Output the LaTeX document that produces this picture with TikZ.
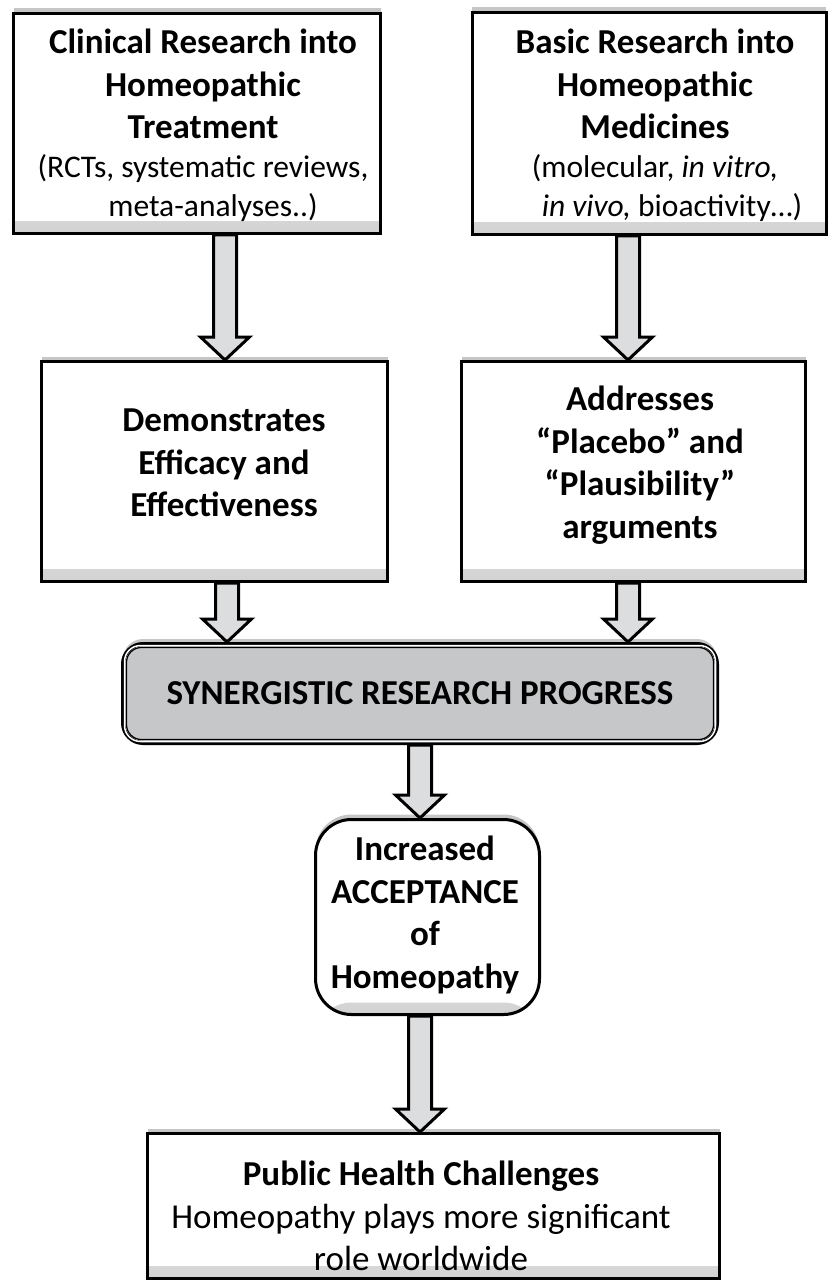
\documentclass[tikz,border=0pt]{standalone}
\usepackage{fontspec}
\setmainfont{Carlito}
\usetikzlibrary{calc,shadows}
\definecolor{arrowgray}{HTML}{DCDDDF}
\definecolor{syngray}{HTML}{C6C7C9}
\tikzset{
  box/.style={draw=black, line width=3pt, fill=white, rectangle, inner sep=0pt,
    general shadow={fill=gray!45, shadow yshift=5pt},
    path picture={\shade[top color=white, bottom color=gray!35]
      ([yshift=12pt]path picture bounding box.south west) rectangle (path picture bounding box.south east);}},
  rbox/.style={box, rounded corners=#1},
  txt/.style={align=center, inner sep=0pt, font=\fontsize{35}{42.5}\selectfont},
  btxt/.style={txt, font=\fontsize{35}{42.5}\selectfont\bfseries},
  stxt/.style={txt, font=\fontsize{31.5}{39}\selectfont},
  blockarr/.style={draw=black, line width=3pt, fill=arrowgray, line join=miter},
}
\newcommand{\barrow}[3]{%
  \draw[blockarr] let \p1=(#2.south), \p2=(#3.north) in
    (#1-11.5,\y1) -- (#1-11.5,\y2+23) -- (#1-24.5,\y2+23) -- (#1,\y2) --
    (#1+24.5,\y2+23) -- (#1+11.5,\y2+23) -- (#1+11.5,\y1) -- cycle;}
\begin{document}
\begin{tikzpicture}[x=1pt,y=1pt]
\useasboundingbox (0,0) rectangle (829,-1281);
% boxes
\node[box, minimum width=367pt, minimum height=220pt] (b1) at (197,-123.5) {};
\node[box, minimum width=354pt, minimum height=222pt] (b2) at (649,-123.5) {};
\node[box, minimum width=346pt, minimum height=220pt] (b3) at (214.5,-471.5) {};
\node[box, minimum width=344pt, minimum height=220pt] (b4) at (633.5,-471.5) {};
\node[rbox=20pt, line width=4pt, fill=syngray, path picture={}, minimum width=594pt, minimum height=99pt] (syn) at (420,-693.5) {};
\draw[white, line width=1.5pt, rounded corners=16pt] ([shift={(3.5,-3.5)}]syn.north west) rectangle ([shift={(-3.5,3.5)}]syn.south east);
\draw[black, line width=1.2pt, rounded corners=15pt] ([shift={(5.5,-5.5)}]syn.north west) rectangle ([shift={(-5.5,5.5)}]syn.south east);
\node[rbox=36pt, minimum width=224pt, minimum height=195pt] (acc) at (427.5,-917) {};
\node[box, minimum width=572pt, minimum height=145pt] (pub) at (433.5,-1206) {};
% texts
\node[btxt] (t1) at (203,-84) {Clinical Research into\\Homeopathic\\Treatment};
\node[stxt] (t1s) at (203,-188) {(RCTs, systematic reviews,\\\hspace*{20pt}meta-analyses..)};
\node[btxt] (t2) at (655,-84) {Basic Research into\\Homeopathic\\Medicines};
\node[stxt] (t2s) at (655,-188) {(molecular, \textit{in vitro,}\\\hspace*{34pt}\textit{in vivo,} bioactivity…)};
\node[btxt] (t3) at (224,-463) {Demonstrates\\Efficacy and\\Effectiveness};
\node[btxt] (t4) at (640,-465) {Addresses\\“Placebo” and\\“Plausibility”\\arguments};
\node[btxt] (t5) at (420,-693) {SYNERGISTIC RESEARCH PROGRESS};
\node[btxt] (t6) at (425,-915) {Increased\\ACCEPTANCE\\of\\Homeopathy};
\node[txt] (t7) at (421,-1216) {\textbf{Public Health Challenges}\\Homeopathy plays more significant\\role worldwide};
% arrows
\barrow{225}{b1}{b3}
\barrow{628}{b2}{b4}
\barrow{227}{b3}{syn}
\barrow{628}{b4}{syn}
\barrow{420}{syn}{acc}
\barrow{420}{acc}{pub}
\end{tikzpicture}
\end{document}
